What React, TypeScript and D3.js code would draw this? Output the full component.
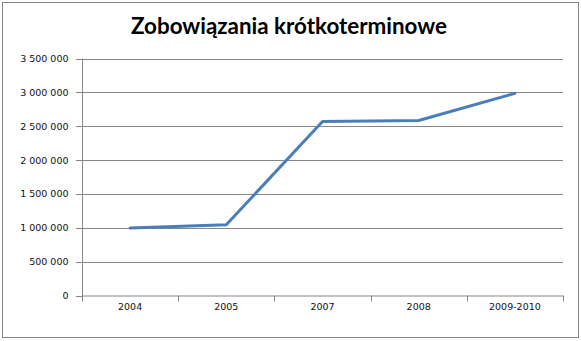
import React from "react";
import * as d3 from "d3";

const categories = ["2004", "2005", "2007", "2008", "2009-2010"];
const values = [995000, 1045000, 2570000, 2585000, 2985000];
const yTicks = [0, 500000, 1000000, 1500000, 2000000, 2500000, 3000000, 3500000];
const title = "Zobowiązania krótkoterminowe";

const W = 581;
const H = 341;
const plot = { left: 82, right: 563, top: 58.5, bottom: 295.5 };

const fmt = (v: number) => d3.format(",")(v).replace(/,/g, " ");

export default function App() {
  const x = d3.scaleBand<string>().domain(categories).range([plot.left, plot.right]);
  const y = d3.scaleLinear().domain([0, 3500000]).range([plot.bottom, plot.top]);
  const line = d3
    .line<number>()
    .x((_, i) => (x(categories[i]) as number) + x.bandwidth() / 2)
    .y((d) => y(d));
  const tickXs = categories.map((c) => x(c) as number).concat([plot.right]);
  const gray = "#868686";
  const textColor = "#111";
  return (
    <svg
      width={W}
      height={H}
      style={{ position: "absolute", left: 0, top: 0, background: "#fff" }}
    >
      <rect x={2.5} y={2.5} width={576} height={335} fill="#fff" stroke={gray} strokeWidth={1} />
      <text
        x={289}
        y={34}
        textAnchor="middle"
        fontFamily="Lato, 'Open Sans', sans-serif"
        fontWeight={700}
        fontSize={22}
        fill="#000"
        textLength={316}
        lengthAdjust="spacingAndGlyphs"
      >
        {title}
      </text>
      {yTicks.map((t) => (
        <g key={t}>
          {t > 0 && (
            <line
              x1={plot.left}
              x2={plot.right}
              y1={Math.round(y(t)) + 0.5}
              y2={Math.round(y(t)) + 0.5}
              stroke={gray}
              strokeWidth={1}
            />
          )}
          <line
            x1={76}
            x2={plot.left}
            y1={Math.round(y(t)) + 0.5}
            y2={Math.round(y(t)) + 0.5}
            stroke={gray}
          />
          <text
            x={68.5}
            y={y(t) + 3.5}
            textAnchor="end"
            fontFamily="'DejaVu Sans', Verdana, sans-serif"
            fontSize={9.5}
            fill={textColor}
          >
            {fmt(t)}
          </text>
        </g>
      ))}
      <line x1={plot.left + 0.5} x2={plot.left + 0.5} y1={plot.top} y2={plot.bottom + 0.5} stroke={gray} />
      <line x1={plot.left} x2={plot.right} y1={plot.bottom + 0.5} y2={plot.bottom + 0.5} stroke={gray} />
      {tickXs.map((tx, i) => (
        <line
          key={i}
          x1={Math.round(tx) + 0.5}
          x2={Math.round(tx) + 0.5}
          y1={plot.bottom}
          y2={plot.bottom + 6}
          stroke={gray}
        />
      ))}
      {categories.map((c) => (
        <text
          key={c}
          x={(x(c) as number) + x.bandwidth() / 2}
          y={310}
          textAnchor="middle"
          fontFamily="'DejaVu Sans', Verdana, sans-serif"
          fontSize={9.5}
          fill={textColor}
        >
          {c}
        </text>
      ))}
      <path
        d={line(values) || ""}
        fill="none"
        stroke="#4a7ebb"
        strokeWidth={3}
        strokeLinejoin="round"
        strokeLinecap="round"
      />
    </svg>
  );
}
